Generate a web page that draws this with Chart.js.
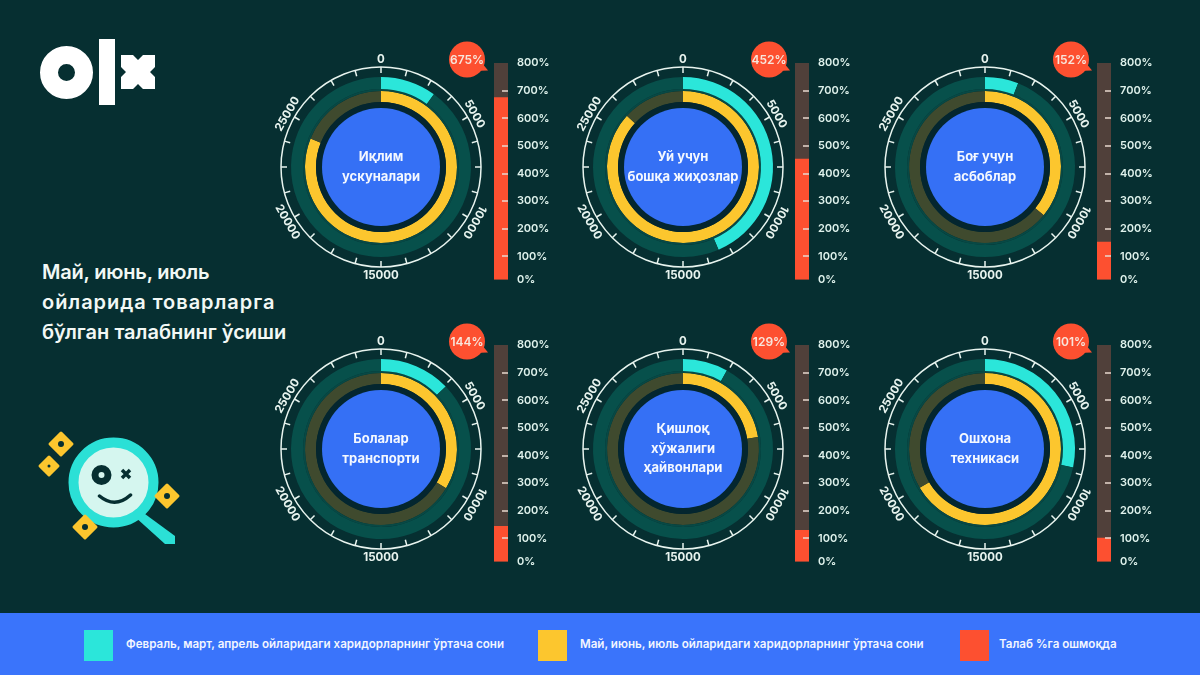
<!DOCTYPE html>
<html>
<head>
<meta charset="utf-8">
<title>OLX</title>
<script src="https://cdn.jsdelivr.net/npm/chart.js@4"></script>
<style>
    html, body { margin: 0; padding: 0; }
    body { width: 1200px; height: 675px; overflow: hidden; position: relative; background: #062f31; font-family: Inter, sans-serif; }
    canvas { position: absolute; }
    svg { position: absolute; left: 0; top: 0; }
    #title { position: absolute; left: 42px; top: 257px; color: #f2f8f5; font-size: 20px; font-weight: 600; line-height: 30px; white-space: nowrap; }
    #title span { display: block; }
    #footer { position: absolute; left: 0; top: 613px; width: 1200px; height: 62px; background: #3a74fb; }
    .swatch { position: absolute; top: 17px; width: 29px; height: 31px; }
    .caption { position: absolute; top: 23px; color: #f2f6ff; font-size: 11.6px; font-weight: 600; line-height: 16px; white-space: nowrap; }
</style>
</head>
<body>
<svg width="1200" height="675">
    <!-- logo -->
    <circle cx="66.5" cy="72.5" r="17.5" fill="none" stroke="#fff" stroke-width="18"/>
    <rect x="99" y="39" width="16" height="66" fill="#fff"/>
    <path d="M121 55H133L138 60L143 55H155V67L150 72L155 77V89H143L138 84L133 89H121V77L126 72L121 67Z" fill="#fff"/>
    <!-- magnifier -->
    <path d="M138 510L145 514L175 536V544H165L134 516Z" fill="#2be0d6"/>
    <circle cx="113.5" cy="482.5" r="40" fill="#d5f6ef" stroke="#2be0d6" stroke-width="10"/>
    <circle cx="101.5" cy="475" r="6.5" fill="none" stroke="#062f31" stroke-width="7"/>
    <path d="M122 470l8 8m0-8l-8 8" stroke="#062f31" stroke-width="3.5" fill="none"/>
    <path d="M99.5 496Q115 509 130.5 495" stroke="#062f31" stroke-width="3.5" stroke-linecap="round" fill="none"/>
    <g fill="#fcc62e" stroke="#fcc62e" stroke-width="3" stroke-linejoin="round">
        <path d="M61 433l11 11-11 11-11-11z"/>
        <path d="M49 457l9 9-9 9-9-9z"/>
        <path d="M167 485l11 11-11 11-11-11z"/>
        <path d="M85 516l11 11-11 11-11-11z"/>
    </g>
    <g fill="#062f31">
        <circle cx="61" cy="444" r="3"/>
        <circle cx="49" cy="466" r="1.5"/>
        <circle cx="167" cy="496" r="3"/>
        <circle cx="85" cy="527" r="3"/>
    </g>
</svg>
<div id="title">
    <span style="letter-spacing:-0.2px">Май, июнь, июль</span>
    <span style="letter-spacing:0.95px">ойларида товарларга</span>
    <span>бўлган талабнинг ўсиши</span>
</div>
<div id="footer">
    <div class="swatch" style="left:84px;background:#2be6da"></div>
    <div class="caption" style="left:126px">Февраль, март, апрель ойларидаги харидорларнинг ўртача сони</div>
    <div class="swatch" style="left:538px;background:#fcc62e"></div>
    <div class="caption" style="left:580px">Май, июнь, июль ойларидаги харидорларнинг ўртача сони</div>
    <div class="swatch" style="left:960px;background:#fd5030"></div>
    <div class="caption" style="left:999px">Талаб %га ошмоқда</div>
</div>
<script>
const categories = [
    ['Иқлим', 'ускуналари'],
    ['Уй учун', 'бошқа жиҳозлар'],
    ['Боғ учун', 'асбоблар'],
    ['Болалар', 'транспорти'],
    ['Қишлоқ', 'хўжалиги', 'ҳайвонлари'],
    ['Ошхона', 'техникаси']
];
const febAprBuyers = [3000, 13060, 1800, 3830, 2430, 8490];
const mayJulBuyers = [24330, 26030, 10780, 10090, 6750, 19940];
const demandGrowth = [675, 452, 152, 144, 129, 101];

const gaugeMax = 30000;
const gaugeMinorStep = 1250;
const gaugeLabels = [0, 5000, 10000, 15000, 20000, 25000];
const percentTicks = [800, 700, 600, 500, 400, 300, 200, 100, 0];

const panelX = [381, 683, 985];
const barX = [494, 795, 1097];
const panelY = [166.5, 448.5];
const barTop = [63, 345];

const FONT = 'Inter, sans-serif';
const GAUGE_SIZE = 260;
const GAUGE_R = 90;
const SCALE_R = 100;
const yBottom = 17; // the orange bars are cut a little above the true zero line

// text turn per gauge label, in degrees
const labelTurn = { 0: 0, 5000: 60, 10000: 120, 15000: 0, 20000: 60, 25000: -60 };

const gaugeDecor = {
    id: 'gaugeDecor',
    afterDraw(chart, args, opts) {
        const ctx = chart.ctx;
        const arc = chart.getDatasetMeta(0).data[0];
        const cx = arc.x, cy = arc.y;

        // dark gap and blue disc with the category name
        ctx.save();
        ctx.fillStyle = '#04262f';
        ctx.beginPath();
        ctx.arc(cx, cy, 65, 0, Math.PI * 2);
        ctx.fill();
        ctx.fillStyle = '#3570f5';
        ctx.beginPath();
        ctx.arc(cx, cy, 59, 0, Math.PI * 2);
        ctx.fill();
        ctx.fillStyle = '#f4f8ff';
        ctx.font = '700 13px ' + FONT;
        ctx.textAlign = 'center';
        ctx.textBaseline = 'middle';
        const lines = opts.name;
        const step = lines.length > 2 ? 19.5 : 20;
        lines.forEach((line, i) => {
            ctx.fillText(line, cx, cy + (i - (lines.length - 1) / 2) * step);
        });

        // outer dial
        ctx.strokeStyle = '#e8f4ef';
        ctx.lineWidth = 1.5;
        ctx.beginPath();
        ctx.arc(cx, cy, SCALE_R, 0, Math.PI * 2);
        ctx.stroke();
        for (let v = 0; v < gaugeMax; v += gaugeMinorStep) {
            const a = v / gaugeMax * Math.PI * 2;
            ctx.beginPath();
            ctx.moveTo(cx + Math.sin(a) * SCALE_R, cy - Math.cos(a) * SCALE_R);
            ctx.lineTo(cx + Math.sin(a) * (SCALE_R - 6), cy - Math.cos(a) * (SCALE_R - 6));
            ctx.stroke();
        }
        ctx.fillStyle = '#e8f4ef';
        ctx.font = '700 11.5px ' + FONT;
        gaugeLabels.forEach(v => {
            const a = v / gaugeMax * Math.PI * 2;
            ctx.save();
            ctx.translate(cx + Math.sin(a) * 108, cy - Math.cos(a) * 108 + 1);
            ctx.rotate(labelTurn[v] * Math.PI / 180);
            ctx.fillText(String(v), 0, 0);
            ctx.restore();
        });

        // growth bubble
        ctx.fillStyle = '#fd5030';
        ctx.beginPath();
        ctx.arc(cx + 86, cy - 107.5, 18, 0, Math.PI * 2);
        ctx.fill();
        ctx.beginPath();
        ctx.moveTo(cx + 92, cy - 96);
        ctx.lineTo(cx + 107, cy - 96.5);
        ctx.lineTo(cx + 101, cy - 104);
        ctx.closePath();
        ctx.fill();
        ctx.fillStyle = '#f8e6dc';
        ctx.font = '600 12px ' + FONT;
        ctx.fillText(opts.growth + '%', cx + 86, cy - 107);
        ctx.restore();
    }
};

const barDashes = {
    id: 'barDashes',
    afterDatasetsDraw(chart) {
        const ctx = chart.ctx;
        const y = chart.scales.y;
        const right = chart.chartArea.right;
        ctx.save();
        ctx.strokeStyle = '#e8d8cf';
        ctx.lineWidth = 1.5;
        percentTicks.forEach(v => {
            if (v === 0 || v === 800) return;
            const py = Math.round(y.getPixelForValue(v));
            ctx.beginPath();
            ctx.moveTo(right - 6, py);
            ctx.lineTo(right, py);
            ctx.stroke();
        });
        ctx.restore();
    }
};

function addCanvas(left, top, width, height) {
    const canvas = document.createElement('canvas');
    canvas.width = width;
    canvas.height = height;
    canvas.style.left = left + 'px';
    canvas.style.top = top + 'px';
    canvas.style.width = width + 'px';
    canvas.style.height = height + 'px';
    document.body.appendChild(canvas);
    return canvas;
}

function drawGauge(i, cx, cy) {
    const canvas = addCanvas(cx - GAUGE_SIZE / 2, cy - GAUGE_SIZE / 2, GAUGE_SIZE, GAUGE_SIZE);
    new Chart(canvas, {
        type: 'doughnut',
        data: {
            datasets: [
                { data: [febAprBuyers[i], gaugeMax - febAprBuyers[i]], backgroundColor: ['#2be6da', '#07504b'], weight: 12 },
                { data: [gaugeMax], backgroundColor: ['#084945'], weight: 2 },
                { data: [mayJulBuyers[i], gaugeMax - mayJulBuyers[i]], backgroundColor: ['#fcc62e', '#3f4a2e'], weight: 11 }
            ]
        },
        options: {
            responsive: false,
            animation: false,
            events: [],
            cutout: (65 / GAUGE_R * 100) + '%',
            borderWidth: 0,
            layout: { padding: GAUGE_SIZE / 2 - GAUGE_R },
            plugins: {
                legend: { display: false },
                tooltip: { enabled: false },
                gaugeDecor: { name: categories[i], growth: demandGrowth[i] }
            }
        },
        plugins: [gaugeDecor]
    });
}

function drawBar(i, left, top) {
    const canvas = addCanvas(left - 4, top - 18, 64, 250);
    new Chart(canvas, {
        type: 'bar',
        data: {
            labels: [categories[i].join(' ')],
            datasets: [
                { data: [demandGrowth[i]], backgroundColor: '#fd5030', barThickness: 14, grouped: false, order: 1 },
                { data: [800], backgroundColor: '#50403a', barThickness: 14, grouped: false, order: 2 }
            ]
        },
        options: {
            responsive: false,
            animation: false,
            events: [],
            layout: { padding: { left: 4, top: 18, bottom: 15 } },
            plugins: { legend: { display: false }, tooltip: { enabled: false } },
            scales: {
                x: { display: false },
                y: {
                    position: 'right',
                    min: yBottom,
                    max: 800,
                    afterFit: scale => { scale.width = 46; },
                    afterBuildTicks: scale => {
                        scale.ticks = percentTicks.map(v => ({ value: Math.max(v, yBottom) }));
                    },
                    border: { display: false },
                    grid: { display: false, drawTicks: false },
                    ticks: {
                        autoSkip: false,
                        padding: 9,
                        color: '#dff2ec',
                        font: { family: FONT, size: 11, weight: 600 },
                        callback: value => (value === yBottom ? 0 : value) + '%'
                    }
                }
            }
        },
        plugins: [barDashes]
    });
}

categories.forEach((name, i) => {
    const col = i % 3;
    const row = Math.floor(i / 3);
    drawGauge(i, panelX[col], panelY[row]);
    drawBar(i, barX[col], barTop[row]);
});
</script>
</body>
</html>
